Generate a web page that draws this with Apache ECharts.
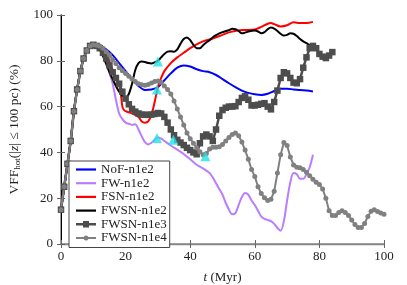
<!DOCTYPE html>
<html><head><meta charset="utf-8">
<script src="https://cdn.jsdelivr.net/npm/echarts@6/dist/echarts.min.js"></script>
<style>html,body{margin:0;padding:0;background:#fff}#c{width:407px;height:285px}</style>
</head><body><div id="c"></div>
<script>
// shared initial rise (all runs identical up to ~10 Myr)
const RISE_T = [0,1,2,3,4,5,6,7,8,9,10];
const RISE_V = [15,25,35,45,58,67.5,75.5,81,84.5,86.5,87];

const NOF_T = [11,12,14,16,18,20,22,24,26,28,30,32,34,36,38,40,42,44,46,48,50,52,54,56,58,60,62,64,66,68,70,72,74,76,78];
const NOF_V = [86.8,86.3,85,82.5,79,75.5,72,69,67.3,67.5,68.5,71.5,74.5,77,78,77.5,76.3,75.5,75,73.8,72,70.2,68.5,67,66,65.4,65.1,65.6,66.8,67.8,67.8,67.5,67.3,67,66.6];

const FW_T = [11,12,13,14,15,16,17,18,19,20,21,22,23,24,25,26,27,28,29,30,31,32,34,36,38,40,42,44,46,47,48,49,50,51,52,53,54,55,56,57,58,59,60,61,62,63,64,65,66,67,68,69,70,71,72,73,74,75,76,77,78];
const FW_V = [86.8,86,84,80,75,70,63,57,54.5,53,52.5,52,52.3,50,47,44.5,43.5,44.2,45.5,46.5,46,45,43,41.2,39.3,37,34.6,33,31,29,26.5,24,21.5,18,15,13,13.5,17,20.5,22.3,21.5,19,17,14.5,12,11,10.5,10,8.8,7,5.8,10,19,27,31,30.5,28.5,28.5,30.5,33.5,39];

const FSN_T = [11,12,14,16,17,18,18.5,19,19.5,20,21,22,24,25,26,27,28,29,30,31,32,34,36,38,40,42,44,46,48,50,52,54,56,58,60,62,64,65,66,68,70,72,74,76,78];
const FSN_V = [86.8,86.3,83,76,73,69.5,66,60,58.5,58,57.5,57,55.5,53.5,53,53.5,56.5,62,68.5,72.5,75.5,79,81.5,83.5,85.5,87.2,88.5,89.3,90.3,91.3,92.4,93,93.5,93.5,93.7,94.8,96.2,96.5,96,95,95.5,96.8,96.5,96.5,97];

const FWSN2_T = [11,12,13,14,15,16,17,18,19,20,21,22,23,24,25,26,27,28,29,30,31,32,33,34,35,36,37,38,39,40,41,42,43,44,45,46,47,48,50,52,53,54,55,56,57,58,60,61,62,63,64,65,66,67,68,69,70,71,72,73,74,75,76,77,78];
const FWSN2_V = [86.5,85,82,78.5,75,72,69,66.5,64.7,64,65.5,70,76,79,79.7,79.5,79,78.8,79.3,80,81.5,83,84,84.2,84,85,87.5,89.5,90.2,89,87,85.5,85.5,86.8,88,89,90.3,91.2,92.5,93.4,94,93.8,93,92,92.3,92.8,93.2,92.8,92,92.5,93.8,94.5,94,93,91.8,91,91.3,92,91.8,90.8,89.5,88.5,87.7,86.8,86.2];

const FWSN3_T = [11,12,13,14,15,16,17,18,19,20,21,22,23,24,25,26,27,28,29,30,31,32,33,34,35,36,37,38,39,40,41,42,43,44,45,46,47,48,49,50,51,52,53,54,55,56,57,58,59,60,61,62,63,64,65,66,67,68,69,70,71,72,73,74,75,76,77,78,79,80,81,82,83,84];
const FWSN3_V = [86.5,85.5,83.5,81,78,75,72.5,70,66.5,63.5,61,59,57.8,57,56.5,56.4,56.4,56.5,56.8,57.2,57,55.5,53,50,47.5,45.5,44.3,43.2,42,41,40,39.2,44,47,47.8,47,45,50,56,58.5,59.5,60,60,60.2,62,63.8,64.5,63,60.5,60.5,60.8,61.2,61.5,60,58.8,62,67,72.5,75,74.5,72.5,70.5,70.2,72,77,81.5,85.5,86.5,85.5,83,81.8,81.2,82.3,83.8];

const FWSN4_T = [11,12,13,14,15,16,17,18,19,20,21,22,23,24,25,26,27,28,29,30,31,32,33,34,35,36,37,38,39,40,41,42,43,44,45,46,47,48,49,50,51,52,53,54,55,56,57,58,59,60,61,62,63,64,65,66,67,68,69,70,71,72,73,74,75,76,77,78,79,80,81,82,83,84,85,86,87,88,89,90,91,92,93,94,95,96,97,98,99,100];
const FWSN4_V = [86.8,86.5,85.5,84,82.5,80.5,78.8,77,75.7,74.5,73.2,72,71,70,69.5,69.3,69.7,70.3,71,71.2,70.5,69,67.5,65.5,62.5,59,55.5,52,48.5,46,44,42,40.3,39,39.5,41.5,42.3,42.3,42.5,43.5,45,46.5,47.8,48.5,47.3,44.5,41,37,32.5,29.5,25,22,20.2,19,19.5,23,31,39,44.3,43,38,34.5,33.5,33.3,32.5,31.3,29.8,28.3,27,26,24,20,14.5,12.5,12.5,13.8,14.5,13.8,12.5,10.5,8.5,7.2,7.2,9,12,14.3,15,14.2,13.5,13];

const TRI_T = [30,29.7,29.7,34.8,44.7];
const TRI_V = [79.7,67.5,46.3,45.5,38.3];

const X_TICKS = [0,20,40,60,80,100];
const Y_TICKS = [0,20,40,60,80,100];

function pairs(t, v){ return t.map((x,i)=>[x, v[i]]); }
function full(t, v){ return pairs(RISE_T.concat(t), RISE_V.concat(v)); }

const FONT = 'Liberation Serif';
const LINE_ICON = 'path://M0,0 L20,0 L20,2.2 L0,2.2 Z';
const SQ_ICON = 'path://M0,5 L7,5 L7,3 L13,3 L13,5 L20,5 L20,7.4 L13,7.4 L13,9.4 L7,9.4 L7,7.4 L0,7.4 Z';
const CI_ICON = 'path://M0,5.1 L7.6,5.1 A2.6,2.6 0 0,1 12.4,5.1 L20,5.1 L20,6.9 L12.4,6.9 A2.6,2.6 0 0,1 7.6,6.9 L0,6.9 Z';
const chart = echarts.init(document.getElementById('c'), null, {renderer:'canvas'});
const axisCommon = {
  type:'value', min:0, max:100, interval:20,
  splitLine:{show:false},
  axisTick:{inside:true, length:4, lineStyle:{color:'#666', width:1}}
};
chart.setOption({
  animation:false,
  backgroundColor:'#fff',
  grid:{left:61, right:23, top:15, bottom:41, containLabel:false, outerBoundsMode:'none'},
  xAxis:[
    Object.assign({}, axisCommon, {
      position:'bottom',
      axisLine:{lineStyle:{color:'#888', width:1.6}},
      axisLabel:{fontFamily:FONT, fontSize:13, color:'#222', margin:6,
        formatter:v=>X_TICKS.includes(v)?String(v):''},
      name:'{i|t} {n|(Myr)}', nameLocation:'middle', nameGap:27,
      nameTextStyle:{rich:{
        i:{fontFamily:FONT, fontSize:13, fontStyle:'italic', color:'#222'},
        n:{fontFamily:FONT, fontSize:13, color:'#222'}}}
    }),
    Object.assign({}, axisCommon, {
      position:'top',
      axisLine:{lineStyle:{color:'#888', width:1.4}},
      axisLabel:{show:false}
    })
  ],
  yAxis:[
    Object.assign({}, axisCommon, {
      position:'left',
      axisLine:{lineStyle:{color:'#888', width:1.6}},
      axisLabel:{fontFamily:FONT, fontSize:13, color:'#222', margin:8,
        formatter:v=>Y_TICKS.includes(v)?String(v):''},
      name:'{n|VFF}{s|hot}{n|(|}{i|z}{n|| ≤ 100 pc) (%)}', nameLocation:'middle', nameGap:37, nameRotate:90,
      nameTextStyle:{rich:{
        n:{fontFamily:FONT, fontSize:13.5, color:'#222'},
        i:{fontFamily:FONT, fontSize:13.5, fontStyle:'italic', color:'#222'},
        s:{fontFamily:FONT, fontSize:9, color:'#222', padding:[7,0,0,0]}}}
    }),
    Object.assign({}, axisCommon, {
      position:'right',
      axisLine:{lineStyle:{color:'#000', width:1}},
      axisLabel:{show:false}
    })
  ],
  legend:{
    left:69, top:161, orient:'vertical',
    backgroundColor:'#fff', borderColor:'#444', borderWidth:1, borderRadius:0,
    padding:[2,3,3,7], itemWidth:20, itemHeight:12, itemGap:0.7,
    symbolKeepAspect:true,
    textStyle:{fontFamily:FONT, fontSize:13, color:'#222', lineHeight:12},
    data:[
      {name:'NoF-n1e2', icon:LINE_ICON},
      {name:'FW-n1e2', icon:LINE_ICON},
      {name:'FSN-n1e2', icon:LINE_ICON},
      {name:'FWSN-n1e2', icon:LINE_ICON},
      {name:'FWSN-n1e3', icon:SQ_ICON},
      {name:'FWSN-n1e4', icon:CI_ICON}
    ]
  },
  series:[
    {name:'NoF-n1e2', type:'line', data:full(NOF_T,NOF_V), symbol:'none', smooth:0.3,
      lineStyle:{color:'#0000ff', width:2}, itemStyle:{color:'#0000ff'}},
    {name:'FW-n1e2', type:'line', data:full(FW_T,FW_V), symbol:'none', smooth:0.3,
      lineStyle:{color:'#b97dff', width:2}, itemStyle:{color:'#b97dff'}},
    {name:'FSN-n1e2', type:'line', data:full(FSN_T,FSN_V), symbol:'none', smooth:0.3,
      lineStyle:{color:'#ff0000', width:2}, itemStyle:{color:'#ff0000'}},
    {name:'FWSN-n1e2', type:'line', data:full(FWSN2_T,FWSN2_V), symbol:'none', smooth:0.3,
      lineStyle:{color:'#000000', width:2}, itemStyle:{color:'#000000'}},
    {name:'FWSN-n1e3', type:'line', data:full(FWSN3_T,FWSN3_V), symbol:'rect', symbolSize:6.5, showSymbol:true,
      lineStyle:{color:'#4d4d4d', width:2.5}, itemStyle:{color:'#4d4d4d'}},
    {name:'FWSN-n1e4', type:'line', data:full(FWSN4_T,FWSN4_V), symbol:'circle', symbolSize:5, showSymbol:true,
      lineStyle:{color:'#808080', width:2}, itemStyle:{color:'#808080'}},
    {name:'markers', type:'scatter', data:pairs(TRI_T,TRI_V), symbol:'triangle', symbolSize:10,
      itemStyle:{color:'#1ee3e3'}, z:5}
  ]
});
</script></body></html>
